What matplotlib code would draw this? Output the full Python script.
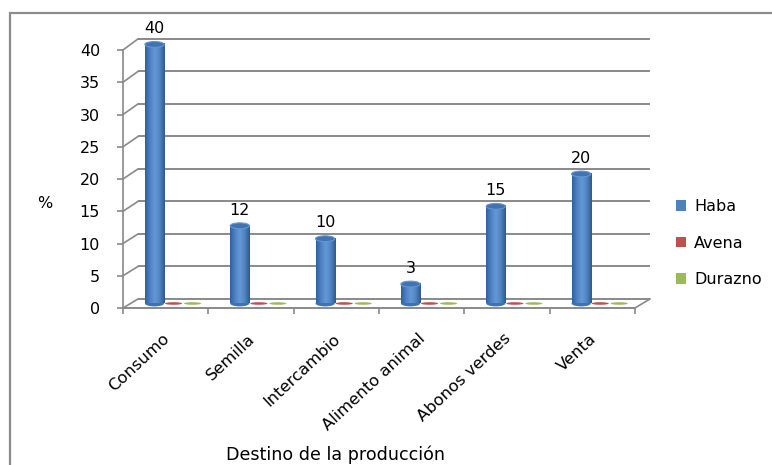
import numpy as np
import matplotlib
matplotlib.use("Agg")
import matplotlib.pyplot as plt
from matplotlib.patches import Ellipse, Rectangle, Patch
from matplotlib.colors import LinearSegmentedColormap

# ---- data ----
categories = ["Consumo", "Semilla", "Intercambio", "Alimento animal", "Abonos verdes", "Venta"]
series_names = ["Haba", "Avena", "Durazno"]
haba = [40, 12, 10, 3, 15, 20]
avena = [0, 0, 0, 0, 0, 0]
durazno = [0, 0, 0, 0, 0, 0]
y_ticks = [0, 5, 10, 15, 20, 25, 30, 35, 40]

colors = ["#4F81BD", "#C0504D", "#9BBB59"]
grid_color = "#898989"
FS = 11.5

W, H = 772, 465
fig = plt.figure(figsize=(W / 100, H / 100), dpi=100)

# front plane of the pseudo-3D plot area (pixels)
x0_px, x1_px = 123, 635
y0_px, y1_px = 308, 50
ax = fig.add_axes([x0_px / W, 1 - y0_px / H, (x1_px - x0_px) / W, (y0_px - y1_px) / H])
ax.set_xlim(0, len(categories))
ax.set_ylim(0, 40)
for s in ax.spines.values():
    s.set_visible(False)
ax.patch.set_alpha(0)

# depth offsets, in data units
DX = 15 / ((x1_px - x0_px) / len(categories))


def back_y(v):
    return 1.4 + 1.008 * v


def mid_y(v):
    return 0.7 + 1.004 * v


ncat = len(categories)
# back wall grid lines and left side wall diagonals
for v in y_ticks:
    ax.plot([DX, ncat + DX], [back_y(v), back_y(v)], color=grid_color, lw=1.4,
            clip_on=False, zorder=1, solid_capstyle="butt")
    ax.plot([0, DX], [v, back_y(v)], color=grid_color, lw=1.2, clip_on=False, zorder=1)
# front axis line, floor front edge and floor right edge
ax.plot([0, 0], [0, 40], color=grid_color, lw=1.2, clip_on=False, zorder=2)
ax.plot([0, ncat], [0, 0], color=grid_color, lw=1.4, clip_on=False, zorder=2)
ax.plot([ncat, ncat + DX], [0, back_y(0)], color=grid_color, lw=1.2, clip_on=False, zorder=2)

# ticks
ax.set_yticks(y_ticks)
ax.set_yticklabels([str(t) for t in y_ticks], fontsize=FS)
ax.set_xticks(range(ncat + 1))
ax.set_xticklabels([])
ax.tick_params(axis="y", length=4.5, width=1.2, color=grid_color, pad=12, direction="out")
ax.tick_params(axis="x", length=4, width=1.2, color=grid_color, direction="out")

# column layout
xs = np.arange(ncat)
slot = [0.281, 0.504, 0.727]
bw = 0.225
shift = DX / 2
base = mid_y(0)
cap_h = 0.9

# Haba cylinders
grad_cmap = LinearSegmentedColormap.from_list(
    "cyl", ["#31609A", "#4D82C3", "#6698D6", "#4F83C3", "#30598C"])
grad = np.linspace(0, 1, 64).reshape(1, -1)
hx = xs + slot[0] + shift
tops = [mid_y(v) for v in haba]
bars = ax.bar(hx, [t - base for t in tops], width=bw, bottom=base, color=colors[0],
              linewidth=0, zorder=3, clip_on=False)
for xc, top, bar in zip(hx, tops, bars):
    ax.add_patch(Ellipse((xc, base), bw, cap_h, facecolor="#4172B0", edgecolor="none",
                         zorder=2.9, clip_on=False))
    im = ax.imshow(grad, cmap=grad_cmap, extent=[xc - bw / 2, xc + bw / 2, base, top],
                   aspect="auto", zorder=3.1, clip_on=False)
    im.set_clip_path(bar)
    ax.add_patch(Ellipse((xc, top), bw, cap_h, facecolor="#4273B1", edgecolor="#6296D4",
                         lw=0.8, zorder=3.2, clip_on=False))

# Avena and Durazno (zero height discs)
for k, vals in ((1, avena), (2, durazno)):
    for xi, v in zip(xs, vals):
        xc = xi + slot[k] + shift
        ax.add_patch(Ellipse((xc, mid_y(v)), bw * 0.9, 0.4, facecolor=colors[k],
                             edgecolor="none", zorder=3, clip_on=False))

# value labels
for xc, top, v in zip(hx, tops, haba):
    ax.annotate(str(v), (xc, top + cap_h / 2), xytext=(0, 6), textcoords="offset points",
                ha="center", va="baseline", fontsize=FS, annotation_clip=False)

ax.set_xlim(0, ncat)
ax.set_ylim(0, 40)

# category labels
for xi, name in zip(xs, categories):
    ax.annotate(name, (xi + 0.5, 0), xytext=(1, -20.5), textcoords="offset points",
                rotation=43, ha="right", va="center", rotation_mode="anchor",
                fontsize=11.8, annotation_clip=False)

# axis titles
fig.text(45 / W, 1 - 203 / H, "%", ha="center", va="center", fontsize=FS)
fig.text(335 / W, 1 - 455 / H, "Destino de la producción", ha="center", va="center",
         fontsize=12.6)

# legend
handles = [Patch(facecolor=c, edgecolor="none", label=n) for c, n in zip(colors, series_names)]
fig.legend(handles=handles, loc="upper left", bbox_to_anchor=(676 / W, 1 - 199 / H),
           frameon=False, fontsize=FS, handlelength=0.65, handleheight=0.65,
           handletextpad=0.5, labelspacing=1.35, borderpad=0, borderaxespad=0)

# chart frame
fig.add_artist(Rectangle((10 / W, -0.05), 1.1, (H - 13) / H + 0.05, transform=fig.transFigure,
                         fill=False, edgecolor="#8C8C8C", lw=1.6))

fig.savefig("out.png", dpi=100)
